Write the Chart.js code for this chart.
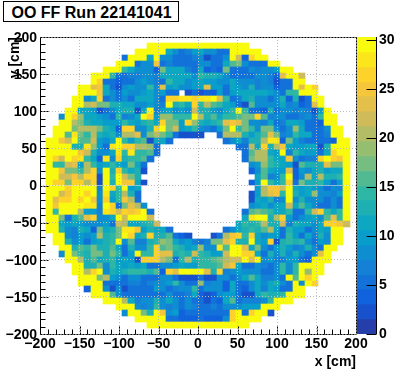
<!DOCTYPE html>
<html>
<head>
<meta charset="utf-8">
<title>OO FF Run 22141041</title>
<script src="https://cdn.jsdelivr.net/npm/chart.js@4"></script>
<style>
  body { margin: 0; background: #fff; }
  #wrap { position: relative; width: 396px; height: 372px; overflow: hidden; }
  canvas { position: absolute; top: 0; }
  #mapChart { left: 0; }
  #scaleChart { left: 356px; }
  #runTitle {
    position: absolute; left: 3px; top: 1px; width: 176px; height: 21px; box-sizing: border-box;
    border: 1px solid #000; background: #fff; text-align: center; text-indent: 1px;
    font: bold 16px/21px "Liberation Sans", sans-serif; color: #000;
  }
</style>
</head>
<body>
<div id="wrap">
  <canvas id="mapChart" width="372" height="372"></canvas>
  <canvas id="scaleChart" width="40" height="372"></canvas>
  <div id="runTitle">OO FF Run 22141041</div>
</div>
<script>
// bin contents, top row first. each row: first column, then counts (null = empty bin)
const _ = null;
const binRows = [
  [16, 30,30,30,30,30,30,30,30,30,30,30,30,30,30,30,30],
  [14, 30,30,30,30,30,12,9,6,7,10,11,9,9,5,5,30,30,30,30,30],
  [12, 5,30,30,30,11,30,8,8,6,6,6,7,8,3,6,5,8,30,22,4,27,30,30],
  [11, 30,30,30,5,9,9,25,5,7,6,6,6,6,9,9,5,5,12,16,17,8,6,6,5,30,30],
  [9, 30,30,30,15,12,8,8,8,4,17,12,12,11,7,6,12,4,6,4,17,6,6,6,8,7,9,8,10,30,30],
  [7, 30,30,30,14,5,5,7,7,9,9,7,12,11,11,12,11,9,15,13,13,12,9,6,6,6,5,8,9,7,4,24,30,30,22],
  [7, 30,27,5,6,4,6,5,8,10,8,7,6,15,11,12,8,10,11,10,10,8,8,11,9,8,9,7,8,7,3,6,6,30,30],
  [5, 30,30,23,25,11,6,3,9,10,9,8,15,9,24,10,11,9,8,10,11,24,10,10,5,11,10,9,13,7,9,8,4,6,6,30,24,30,26],
  [5, 30,30,30,25,12,9,5,10,9,9,10,11,8,10,6,6,_,2,5,2,4,4,10,5,10,11,11,11,12,11,10,8,6,14,15,30,30,30],
  [4, 30,30,9,12,27,6,8,6,8,5,11,11,11,8,5,26,26,28,28,27,28,28,30,24,14,6,7,12,13,9,9,5,9,13,4,13,3,6,30,30],
  [4, 30,30,20,22,17,17,13,13,11,12,9,9,10,8,7,30,13,14,12,26,15,20,16,15,12,10,6,3,16,9,8,8,9,12,7,8,4,6,23,30],
  [3, 30,30,11,11,10,3,6,9,12,13,13,3,12,30,7,10,11,9,10,9,22,13,13,10,8,12,14,30,15,5,5,4,13,6,9,8,7,8,7,2,10,30],
  [2, 9,30,27,19,12,11,10,8,6,14,7,9,12,30,26,10,19,19,15,15,15,30,21,13,16,11,15,14,16,17,17,26,16,7,9,8,6,6,7,9,6,15,30,30],
  [2, 30,30,20,17,13,12,11,10,10,10,14,12,10,13,14,11,26,18,18,10,27,19,13,12,13,15,24,25,23,17,9,8,7,11,6,7,12,12,10,5,5,4,30,30],
  [1, 30,30,30,18,20,21,21,17,13,12,4,27,27,9,9,13,27,30,18,22,10,12,14,8,7,6,10,18,30,15,18,14,9,17,17,9,5,9,19,11,5,6,6,9,30,30],
  [1, 30,30,16,28,17,14,20,13,11,13,9,20,20,24,9,18,20,17,14,6,2,2,3,3,_,_,6,20,21,21,13,10,13,16,24,18,7,8,15,11,12,6,6,7,30,30],
  [0, 30,30,25,22,30,16,16,22,10,9,12,30,14,10,14,16,3,11,11,6,_,_,_,_,_,_,_,_,6,9,12,7,13,13,20,28,28,4,17,10,7,6,6,6,5,4,30,30],
  [0, 30,30,30,30,13,13,28,19,10,6,28,30,27,26,21,21,19,5,_,_,_,_,_,_,_,_,_,_,_,_,6,6,20,12,26,13,21,25,12,10,10,11,11,3,13,30,30,30],
  [0, 30,30,30,30,30,25,22,13,9,8,12,28,15,28,14,15,16,6,_,_,_,_,_,_,_,_,_,_,_,_,_,6,16,20,21,12,10,30,7,14,11,10,10,6,11,26,30,30],
  [0, 30,27,22,30,27,28,14,12,4,28,9,26,13,14,15,16,5,_,_,_,_,_,_,_,_,_,_,_,_,_,_,5,18,21,21,14,11,11,25,9,6,7,7,26,30,27,25,30],
  [0, 30,15,15,22,23,10,20,14,10,12,14,11,10,17,12,6,_,_,_,_,_,_,_,_,_,_,_,_,_,_,_,_,9,10,19,14,13,12,10,3,16,13,13,13,23,17,17,30],
  [0, 30,30,25,17,17,15,20,26,8,30,13,26,14,12,13,3,_,_,_,_,_,_,_,_,_,_,_,_,_,_,_,_,4,9,16,12,10,10,24,4,10,9,12,13,10,11,12,30],
  [0, 30,30,22,22,25,20,27,27,3,30,14,30,22,17,13,_,_,_,_,_,_,_,_,_,_,_,_,_,_,_,_,_,_,11,16,7,9,15,30,4,9,20,12,20,13,13,14,30],
  [0, 30,27,27,17,27,27,20,27,2,30,13,30,25,25,11,3,_,_,_,_,_,_,_,_,_,_,_,_,_,_,_,_,4,10,30,15,12,15,27,5,17,13,13,15,10,6,10,30],
  [0, 30,30,30,26,30,30,30,30,7,30,26,14,30,10,11,_,_,_,_,_,_,_,_,_,_,_,_,_,_,_,_,_,_,10,21,25,25,22,30,12,10,11,10,8,6,9,7,30],
  [0, 30,30,22,25,30,30,27,30,9,28,12,14,21,13,5,_,_,_,_,_,_,_,_,_,_,_,_,_,_,_,_,_,3,10,20,24,25,15,30,13,10,11,19,9,9,7,10,30],
  [0, 30,24,27,27,30,27,30,25,9,27,10,14,25,21,6,_,_,_,_,_,_,_,_,_,_,_,_,_,_,_,_,_,3,12,10,13,7,9,30,9,13,9,8,9,6,9,5,30],
  [0, 30,25,30,30,30,30,28,28,7,30,27,6,17,24,20,9,_,_,_,_,_,_,_,_,_,_,_,_,_,_,_,_,9,10,12,9,12,12,22,12,16,12,9,6,6,8,6,30],
  [0, 30,15,30,30,30,21,10,10,7,28,26,22,26,25,26,30,5,_,_,_,_,_,_,_,_,_,_,_,_,_,_,5,16,17,16,15,11,12,15,5,5,14,22,26,15,12,14,30],
  [0, 30,30,17,6,13,16,24,26,8,9,12,30,22,30,30,30,22,_,_,_,_,_,_,_,_,_,_,_,_,_,_,12,28,30,30,13,20,26,10,6,9,10,12,9,16,23,14,30],
  [0, 30,30,11,10,12,10,9,8,9,10,6,22,20,11,12,13,14,22,_,_,_,_,_,_,_,_,_,_,_,_,11,15,13,15,20,13,13,22,7,13,11,12,9,11,27,27,25,22],
  [0, 30,30,13,9,7,13,12,4,17,12,13,17,28,28,25,10,13,12,11,6,_,_,_,_,_,_,_,_,5,8,12,13,15,13,16,21,12,6,13,10,10,5,9,12,10,30,30],
  [1, 30,30,8,7,10,9,10,21,13,14,17,30,27,11,13,26,13,13,16,5,4,3,_,_,_,3,6,20,25,26,15,26,11,9,10,10,6,15,10,5,11,7,13,9,30,30],
  [1, 30,30,13,9,10,6,10,11,13,14,30,8,16,7,7,13,15,19,18,11,9,10,7,6,7,18,17,24,26,13,13,30,11,10,26,3,13,14,13,14,9,6,10,9,30,30],
  [2, 30,30,13,16,15,17,13,13,16,11,6,13,8,8,14,26,16,18,14,13,10,12,19,9,9,28,16,30,30,24,12,17,9,5,10,13,10,7,9,13,8,5,30,30],
  [2, 9,30,18,14,13,17,18,13,17,14,6,10,30,14,14,26,23,23,13,15,13,22,14,13,10,10,22,30,30,26,27,12,6,13,9,13,9,13,9,6,9,23,30],
  [3, 30,30,21,13,16,12,13,14,10,11,10,3,26,27,27,21,17,5,15,20,13,15,15,16,18,21,22,22,30,23,30,9,10,7,7,10,10,6,4,30,30,30],
  [4, 30,30,13,13,18,9,15,11,10,12,10,12,6,6,9,9,10,12,10,10,14,14,15,16,22,25,12,6,6,9,7,6,9,15,9,14,30,30,30,30],
  [4, 30,30,20,26,30,8,13,12,13,14,14,15,13,16,4,26,24,30,30,30,30,24,13,27,7,9,10,9,9,8,6,6,8,14,9,14,30,19,30,30],
  [5, 30,30,30,17,21,10,8,6,8,9,6,5,6,8,8,5,2,3,2,5,3,2,9,8,6,8,11,16,12,7,7,9,5,30,16,30,27,30],
  [5, 30,30,30,30,6,5,6,6,7,7,5,7,9,8,10,15,8,6,6,19,7,9,9,4,11,6,5,8,11,9,12,13,9,5,30,9,30,26],
  [6, 4,30,30,9,3,9,3,5,6,5,6,10,9,6,7,9,9,15,6,9,9,9,4,12,6,4,8,11,7,11,10,6,6,30,30],
  [7, 30,30,30,16,9,5,5,5,6,5,5,6,8,6,6,7,12,4,3,4,9,10,10,5,3,3,12,15,13,13,14,30,30,30],
  [9, 30,30,30,21,11,7,8,8,13,8,11,9,6,8,6,5,3,6,4,12,16,6,7,7,7,9,14,30,30,30],
  [11, 30,30,30,8,7,9,14,9,7,9,5,9,7,5,6,7,6,9,9,8,10,10,10,30,30,30],
  [12, 9,30,30,17,13,30,25,9,10,4,6,6,6,6,5,6,6,26,30,5,27,30,30,3],
  [14, 30,30,30,30,30,6,6,4,4,4,5,4,4,4,8,27,30,30,30,30],
  [16, 30,30,30,30,30,30,30,30,30,30,30,30,30,30,30,30]
];

const binWidth = 8;
const firstBinEdge = -192;
const zMax = 30.3;
const zBands = 20;
const axisTicks = [-200, -150, -100, -50, 0, 50, 100, 150, 200];
const minorTicks = [-190, -180, -170, -160, -140, -130, -120, -110, -90, -80, -70, -60, -40, -30, -20, -10,
  10, 20, 30, 40, 60, 70, 80, 90, 110, 120, 130, 140, 160, 170, 180, 190];
const zTicks = [0, 5, 10, 15, 20, 25, 30];

// ROOT kBird palette stops
const birdR = [0.2082, 0.0592, 0.0780, 0.0232, 0.1802, 0.5301, 0.8186, 0.9956, 0.9764];
const birdG = [0.1664, 0.3599, 0.5041, 0.6419, 0.7178, 0.7492, 0.7328, 0.7862, 0.9832];
const birdB = [0.5293, 0.8684, 0.8385, 0.7914, 0.6425, 0.4662, 0.3499, 0.1968, 0.0539];

function birdColor(band) {
  const pos = Math.min((band + 0.99) / zBands, 1) * 8;
  const i = Math.min(Math.floor(pos), 7);
  const t = pos - i;
  const mix = (s) => Math.round((s[i] + (s[i + 1] - s[i]) * t) * 255);
  return `rgb(${mix(birdR)},${mix(birdG)},${mix(birdB)})`;
}

function bandOf(value) {
  return Math.min(Math.floor(value / zMax * zBands), zBands - 1);
}

// one floating bar per filled bin
const bins = [];
binRows.forEach((row, r) => {
  const top = -firstBinEdge - binWidth * r;
  row.slice(1).forEach((count, k) => {
    if (count === null) return;
    bins.push({
      x: firstBinEdge + binWidth * (row[0] + k) + binWidth / 2,
      y: [top - binWidth, top],
      count: count
    });
  });
});

const tickFont = { family: 'Liberation Sans', size: 14, weight: 'bold' };
const minusSign = (v) => String(v).replace('-', '\u2212');

// ROOT snaps its boxes to whole pixels
function snapBars(chart) {
  chart.getDatasetMeta(0).data.forEach((bar) => {
    const left = Math.round(bar.x - bar.width / 2);
    const right = Math.round(bar.x + bar.width / 2);
    const top = Math.round(Math.min(bar.y, bar.base));
    const bottom = Math.round(Math.max(bar.y, bar.base));
    bar.x = (left + right) / 2;
    bar.width = right - left;
    bar.y = top;
    bar.base = bottom;
  });
}

function line(ctx, x1, y1, x2, y2) {
  ctx.beginPath();
  ctx.moveTo(x1, y1);
  ctx.lineTo(x2, y2);
  ctx.stroke();
}

const frameAndTicks = {
  id: 'frameAndTicks',
  afterDraw(chart) {
    const { ctx, chartArea: a, scales } = chart;
    const l = Math.round(a.left) + 0.5, r = Math.round(a.right) + 0.5;
    const t = Math.round(a.top) + 0.5, b = Math.round(a.bottom) + 0.5;
    ctx.save();
    ctx.strokeStyle = '#000';
    ctx.lineWidth = 1;
    // dashed frame except the left edge, and the long ticks
    ctx.setLineDash([2, 1]);
    line(ctx, l, t, r, t);
    line(ctx, r, t, r, b);
    line(ctx, l, b, r, b);
    axisTicks.slice(1, -1).forEach((v) => {
      const px = Math.round(scales.x.getPixelForValue(v)) + 0.5;
      const py = Math.round(scales.y.getPixelForValue(v)) + 0.5;
      line(ctx, px, b, px, b - 9);
      line(ctx, l, py, l + 9, py);
    });
    ctx.setLineDash([]);
    line(ctx, l, t, l, b);
    minorTicks.forEach((v) => {
      const px = Math.round(scales.x.getPixelForValue(v)) + 0.5;
      const py = Math.round(scales.y.getPixelForValue(v)) + 0.5;
      line(ctx, px, b, px, b - 5);
      line(ctx, l, py, l + 5, py);
    });
    ctx.restore();
  }
};

new Chart(document.getElementById('mapChart'), {
  type: 'bar',
  plugins: [{ id: 'snapBars', afterDatasetsUpdate: snapBars }, frameAndTicks],
  data: {
    datasets: [{
      data: bins,
      backgroundColor: (c) => c.raw ? birdColor(bandOf(c.raw.count)) : '#fff',
      borderWidth: 0,
      barPercentage: 1,
      categoryPercentage: 1,
      grouped: false
    }]
  },
  options: {
    responsive: false,
    animation: false,
    events: [],
    // the right padding leaves room for half of the last x label
    layout: { padding: { top: 37, right: 16, bottom: 0, left: 0 } },
    plugins: { legend: { display: false }, tooltip: { enabled: false } },
    scales: {
      x: {
        type: 'linear',
        offset: false,
        min: -200,
        max: 200,
        afterFit: (s) => { s.height = 38; },
        border: { display: false, dash: [1, 2] },
        grid: { color: '#bbbbbb', drawTicks: false, z: 1, offset: false },
        ticks: {
          stepSize: 50,
          autoSkip: false,
          maxRotation: 0,
          padding: 2,
          color: '#000',
          font: tickFont,
          callback: minusSign
        },
        title: {
          display: true,
          text: 'x [cm]',
          align: 'end',
          color: '#000',
          font: tickFont,
          padding: { top: 0, bottom: 1 }
        }
      },
      y: {
        type: 'linear',
        min: -200,
        max: 200,
        afterFit: (s) => { s.width = 40; },
        border: { display: false, dash: [1, 2] },
        grid: { color: '#bbbbbb', drawTicks: false, z: 1 },
        ticks: {
          stepSize: 50,
          autoSkip: false,
          padding: 3,
          labelOffset: 1,
          color: '#000',
          font: tickFont,
          callback: minusSign
        },
        title: {
          display: true,
          text: 'y [cm]',
          align: 'end',
          color: '#000',
          font: tickFont,
          padding: { top: 7, bottom: 0 }
        }
      }
    }
  }
});

// colour scale, drawn as a second small chart
const bands = [];
for (let i = 0; i < zBands; i++) bands.push(i);

new Chart(document.getElementById('scaleChart'), {
  type: 'bar',
  plugins: [{ id: 'snapBars', afterDatasetsUpdate: snapBars }, {
    id: 'scaleTicks',
    afterDraw(chart) {
      const { ctx, chartArea: a, scales } = chart;
      const r = Math.round(a.right) + 0.5;
      ctx.save();
      ctx.strokeStyle = '#000';
      line(ctx, r, a.top, r, a.bottom);
      zTicks.forEach((v) => {
        const py = Math.round(scales.y.getPixelForValue(v)) + 0.5;
        line(ctx, r, py, r - 10, py);
      });
      ctx.restore();
    }
  }],
  data: {
    labels: ['z'],
    datasets: [{
      data: bands.map((i) => ({ x: 'z', y: [i * zMax / zBands, (i + 1) * zMax / zBands] })),
      backgroundColor: bands.map(birdColor),
      borderWidth: 0,
      barPercentage: 1,
      categoryPercentage: 1,
      grouped: false
    }]
  },
  options: {
    responsive: false,
    animation: false,
    events: [],
    layout: { padding: { top: 37, right: 0, bottom: 38, left: 1 } },
    plugins: { legend: { display: false }, tooltip: { enabled: false } },
    scales: {
      x: { display: false },
      y: {
        position: 'right',
        min: 0,
        max: zMax,
        afterFit: (s) => { s.width = 20; },
        afterBuildTicks: (s) => { s.ticks = zTicks.map((v) => ({ value: v })); },
        border: { display: false },
        grid: { display: false, drawTicks: false },
        ticks: { padding: 3, color: '#000', font: tickFont }
      }
    }
  }
});
</script>
</body>
</html>
